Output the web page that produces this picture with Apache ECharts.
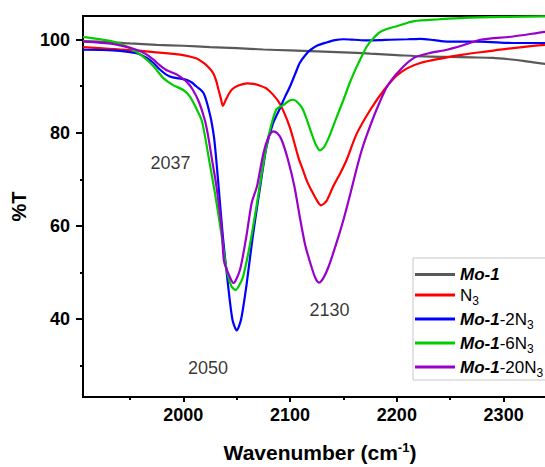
<!DOCTYPE html>
<html>
<head>
<meta charset="utf-8">
<script src="https://cdn.jsdelivr.net/npm/echarts@6/dist/echarts.min.js"></script>
<style>
html,body{margin:0;padding:0;background:#fff;}
#chart{width:545px;height:467px;}
</style>
</head>
<body>
<div id="chart"></div>
<script>
// ---- data (wavenumber cm-1, %T) ----
const mo1 = [[1906,99.7],[1930,99.5],[1950,99.2],[1975,98.9],[2000,98.7],[2025,98.4],[2050,98.2],[2075,97.9],[2100,97.7],[2125,97.5],[2150,97.3],[2175,97.0],[2200,96.7],[2225,96.4],[2250,96.3],[2270,96.2],[2290,96.1],[2305,95.8],[2320,95.4],[2339,94.8],[2350,94.6]];
const n3 = [[1906,98.4],[1934,98.0],[1965,97.5],[1997,96.8],[2006,96.4],[2013,95.9],[2019,95.0],[2024,94.0],[2028,92.8],[2031,91.0],[2033,89.2],[2035,87.5],[2037,85.8],[2040,87.2],[2043,88.5],[2046,89.4],[2050,90.0],[2055,90.4],[2060,90.6],[2066,90.5],[2072,90.1],[2078,89.5],[2084,88.2],[2090,86.4],[2095,84.0],[2100,81.0],[2104,77.8],[2108,74.5],[2112,72.0],[2116,69.5],[2120,67.6],[2125,65.5],[2129,64.4],[2134,65.3],[2140,68.3],[2147,71.3],[2153,74.2],[2162,79.6],[2175,84.9],[2188,89.2],[2200,92.3],[2210,93.9],[2222,95.0],[2240,95.9],[2262,96.8],[2285,97.5],[2309,98.2],[2339,98.9],[2350,99.0]];
const n3x2 = [[1906,97.85],[1934,97.7],[1956,97.1],[1965,96.2],[1972,95.0],[1978,93.6],[1984,92.5],[1990,91.9],[1996,91.7],[2003,91.4],[2008,90.8],[2012,90.0],[2016,89.3],[2019,88.5],[2021,87.3],[2023,85.7],[2026,82.8],[2029,78.5],[2033,68.5],[2037,57.7],[2042,47.0],[2046,39.8],[2050,37.5],[2054,39.8],[2059,47.0],[2065,57.7],[2072,68.5],[2078,77.1],[2084,82.0],[2090,85.0],[2095,87.6],[2100,90.0],[2105,92.8],[2109,95.0],[2114,96.6],[2119,97.8],[2126,98.8],[2134,99.4],[2142,99.9],[2150,100.1],[2160,100.0],[2172,99.85],[2184,99.9],[2194,100.0],[2210,100.1],[2222,100.2],[2235,99.9],[2247,99.6],[2278,99.6],[2309,99.3],[2339,99.3],[2350,99.3]];
const n3x6 = [[1906,100.6],[1934,99.6],[1950,98.2],[1962,96.4],[1972,94.3],[1981,91.8],[1990,90.3],[2000,89.2],[2006,87.8],[2012,85.3],[2017,82.8],[2020,79.6],[2025,73.0],[2030,66.5],[2036,57.7],[2040,51.2],[2045,47.0],[2049,46.2],[2053,47.5],[2056,49.1],[2062,55.5],[2069,64.9],[2075,73.5],[2080,79.5],[2087,85.0],[2094,86.0],[2099,86.9],[2103,87.1],[2108,86.3],[2112,85.0],[2116,82.6],[2120,79.9],[2124,77.5],[2128,76.2],[2132,77.0],[2137,79.4],[2143,83.0],[2150,87.1],[2156,90.8],[2162,94.0],[2167,96.4],[2172,98.6],[2178,100.3],[2184,101.6],[2192,102.4],[2200,102.9],[2216,104.0],[2240,104.4],[2262,104.7],[2300,104.9],[2339,105.0],[2350,105.0]];
const n3x20 = [[1906,99.6],[1934,99.1],[1956,97.85],[1965,96.9],[1972,95.7],[1978,94.5],[1984,93.5],[1990,92.9],[1994,92.5],[2003,91.0],[2009,89.2],[2015,86.4],[2020,82.8],[2023,79.6],[2027,74.0],[2031,68.5],[2036,59.1],[2038,52.5],[2042,49.8],[2047,47.7],[2053,50.5],[2059,57.7],[2064,64.9],[2069,68.5],[2075,75.6],[2080,79.2],[2084,80.3],[2088,79.9],[2092,78.5],[2098,74.2],[2104,68.5],[2109,62.0],[2114,56.0],[2120,51.2],[2124,48.6],[2127,47.8],[2131,48.7],[2136,51.2],[2143,56.0],[2150,61.3],[2156,66.5],[2162,72.0],[2167,76.2],[2172,79.6],[2181,85.0],[2191,90.0],[2203,93.5],[2216,96.1],[2230,97.1],[2247,97.85],[2262,98.8],[2278,100.0],[2309,100.7],[2339,101.7],[2350,101.9]];

const seriesNames = ['Mo-1', 'N3', 'Mo-1-2N3', 'Mo-1-6N3', 'Mo-1-20N3'];
const seriesData = [mo1, n3, n3x2, n3x6, n3x20];
const xMajorTicks = [2000, 2100, 2200, 2300];
const xMinorTicks = [1950, 2050, 2150, 2250];
const yMajorTicks = [40, 60, 80, 100];
const yMinorTicks = [30, 50, 70, 90];
const peakLabels = ['2037', '2050', '2130'];
const peakLabelAt = [[1988, 73.5], [2023, 29.4], [2137, 41.8]];

const colors = ['#595959', '#ff0000', '#0000ff', '#00cc00', '#9900cc'];
const FONT = "'Liberation Sans', Arial, sans-serif";
const X_MIN = 1906, X_MAX = 2350, Y_MIN = 23.2, Y_MAX = 105.1;

const legendText = {
  'Mo-1': '{bi1|Mo-1}',
  'N3': '{n|N}{s|3}',
  'Mo-1-2N3': '{bi|Mo-1}{n|-2N}{s|3}',
  'Mo-1-6N3': '{bi|Mo-1}{n|-6N}{s|3}',
  'Mo-1-20N3': '{bi|Mo-1}{n|-20N}{s|3}'
};

const chart = echarts.init(document.getElementById('chart'), null, {renderer: 'svg'});

const series = seriesNames.map((name, i) => ({
  name: name,
  type: 'line',
  data: seriesData[i],
  showSymbol: false,
  symbol: 'none',
  smooth: 0.25,
  lineStyle: {color: colors[i], width: 2.2},
  itemStyle: {color: colors[i]},
  z: 2 + i,
  animation: false
}));

series.push({
  name: 'labels',
  type: 'scatter',
  data: peakLabelAt.map((p, i) => ({value: p, name: peakLabels[i]})),
  symbolSize: 0,
  label: {
    show: true, position: 'inside', formatter: (p) => p.name,
    color: '#000', fontSize: 18, fontFamily: FONT
  },
  silent: true,
  animation: false,
  z: 10
});

const option = {
  backgroundColor: '#fff',
  animation: false,
  grid: {
    left: 83, top: 16, width: 474, height: 381,
    outerBoundsMode: 'none', containLabel: false,
    show: true, borderColor: '#000', borderWidth: 2, backgroundColor: 'transparent'
  },
  legend: {
    data: seriesNames,
    orient: 'vertical',
    left: 413, top: 258,
    padding: [8, 40, 1, 2],
    itemGap: 0,
    itemWidth: 40, itemHeight: 3,
    icon: 'rect',
    borderColor: '#c8c8c8', borderWidth: 1,
    backgroundColor: '#fff',
    formatter: (name) => legendText[name],
    textStyle: {
      color: '#000', fontFamily: FONT, fontSize: 17,
      rich: {
        bi1: {fontStyle: 'italic', fontWeight: 'bold', fontSize: 17, lineHeight: 13, fontFamily: FONT, color: '#000'},
        bi: {fontStyle: 'italic', fontWeight: 'bold', fontSize: 17, lineHeight: 27, fontFamily: FONT, color: '#000'},
        n: {fontSize: 17, lineHeight: 27, fontFamily: FONT, color: '#000'},
        s: {fontSize: 12, lineHeight: 27, fontFamily: FONT, color: '#000', padding: [12, 0, 0, 0]}
      }
    }
  },
  xAxis: [
    {
      type: 'value', min: X_MIN, max: X_MAX, position: 'bottom',
      axisLine: {show: true, onZero: false, lineStyle: {color: '#000', width: 2}},
      axisTick: {show: true, inside: false, length: 5, lineStyle: {color: '#000', width: 2}, customValues: xMajorTicks},
      axisLabel: {customValues: xMajorTicks, formatter: (v) => String(v), color: '#000', fontSize: 18, fontWeight: 'bold', fontFamily: FONT, margin: 9},
      splitLine: {show: false},
      name: 'Wavenumber (cm{sup|-1})',
      nameLocation: 'middle', nameGap: 44,
      nameTextStyle: {
        color: '#000', fontSize: 21, fontWeight: 'bold', fontFamily: FONT,
        rich: {sup: {fontSize: 13, fontWeight: 'bold', fontFamily: FONT, color: '#000', padding: [0, 0, 10, 0]}}
      }
    },
    {
      type: 'value', min: X_MIN, max: X_MAX, position: 'bottom',
      axisLine: {show: false},
      axisTick: {show: true, inside: false, length: 3, lineStyle: {color: '#000', width: 2}, customValues: xMinorTicks},
      axisLabel: {show: false},
      splitLine: {show: false}
    }
  ],
  yAxis: [
    {
      type: 'value', min: Y_MIN, max: Y_MAX, position: 'left',
      axisLine: {show: true, onZero: false, lineStyle: {color: '#000', width: 2}},
      axisTick: {show: true, inside: false, length: 7, lineStyle: {color: '#000', width: 2}, customValues: yMajorTicks},
      axisLabel: {customValues: yMajorTicks, formatter: (v) => String(v), color: '#000', fontSize: 18, fontWeight: 'bold', fontFamily: FONT, margin: 13},
      splitLine: {show: false},
      name: '%T', nameLocation: 'middle', nameGap: 50, nameRotate: 90,
      nameTextStyle: {color: '#000', fontSize: 20, fontWeight: 'bold', fontFamily: FONT}
    },
    {
      type: 'value', min: Y_MIN, max: Y_MAX, position: 'left',
      axisLine: {show: false},
      axisTick: {show: true, inside: false, length: 3, lineStyle: {color: '#000', width: 2}, customValues: yMinorTicks},
      axisLabel: {show: false},
      splitLine: {show: false}
    }
  ],
  series: series
};

chart.setOption(option);
</script>
</body>
</html>
